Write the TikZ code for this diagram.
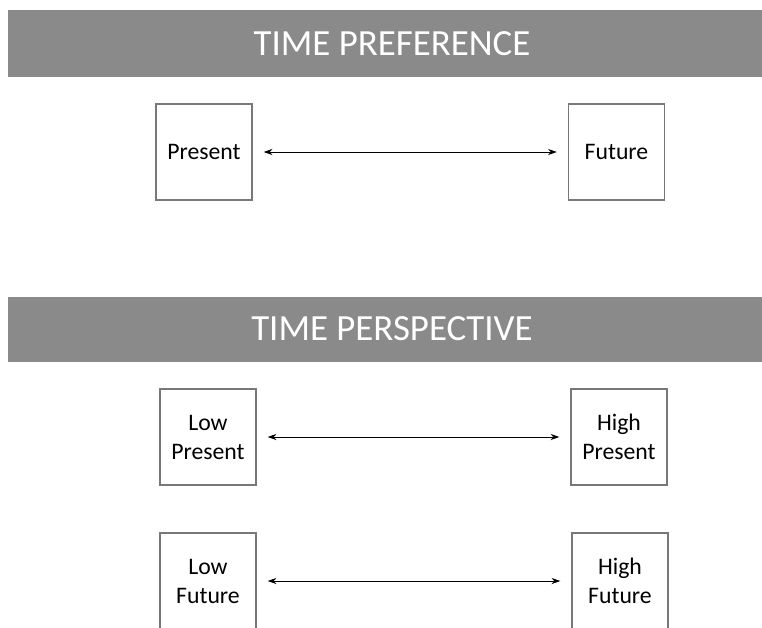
\documentclass[tikz,border=0pt]{standalone}
\usepackage{fontspec}
\setmainfont{Carlito}
\usetikzlibrary{arrows.meta}

\definecolor{bannergray}{RGB}{138,138,138}
\definecolor{boxgray}{RGB}{120,120,120}

\tikzset{
    banner/.style={text=white,font=\fontsize{21}{25}\selectfont},
    timebox/.style={draw=boxgray,line width=0.8pt,minimum width=1.92cm,minimum height=1.92cm,
        align=center,font=\fontsize{13.5}{16.5}\selectfont},
    biarrow/.style={{Stealth[length=5pt,width=3.5pt]}-{Stealth[length=5pt,width=3.5pt]},line width=0.5pt,
        shorten <=0.22cm,shorten >=0.22cm}
}

\begin{document}
\begin{tikzpicture}[x=0.02cm,y=-0.02cm]
    \useasboundingbox (0,0) rectangle (762,627);
    % headings
    \fill[bannergray] (8,10) rectangle (770,77);
    \node[banner] (pref) at (392,44) {TIME PREFERENCE};
    \fill[bannergray] (8,297) rectangle (770,362);
    \node[banner] (persp) at (392,329) {TIME PERSPECTIVE};
    % time preference
    \node[timebox] (present) at (204,152) {Present};
    \node[timebox] (future) at (616.5,152) {Future};
    \draw[biarrow] (present) -- (future);
    % time perspective
    \node[timebox] (lowpres) at (208,437) {Low\\Present};
    \node[timebox] (highpres) at (619,437) {High\\Present};
    \draw[biarrow] (lowpres) -- (highpres);
    \node[timebox] (lowfut) at (208,581) {Low\\Future};
    \node[timebox] (highfut) at (620,581) {High\\Future};
    \draw[biarrow] (lowfut) -- (highfut);
\end{tikzpicture}
\end{document}
